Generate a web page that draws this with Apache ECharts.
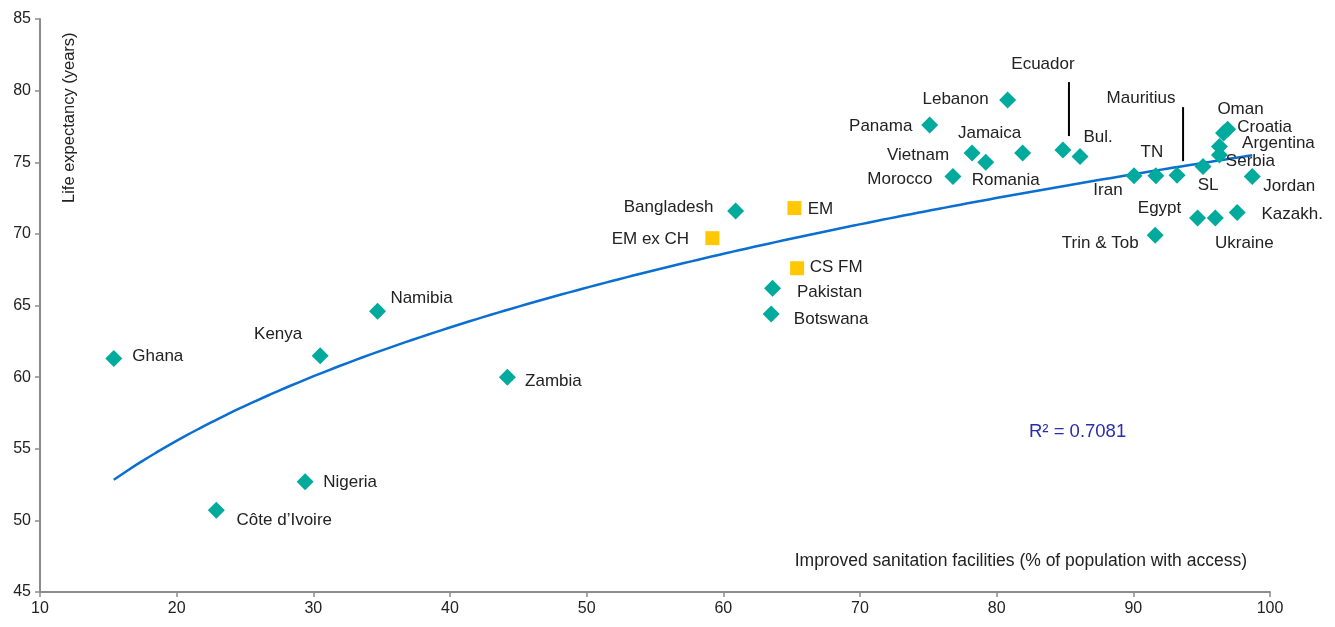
<!DOCTYPE html>
<html>
<head>
<meta charset="utf-8">
<script src="https://cdn.jsdelivr.net/npm/echarts@6/dist/echarts.min.js"></script>
<style>
html,body{margin:0;padding:0;background:#fff;}
#chart{width:1335px;height:627px;}
</style>
</head>
<body>
<div id="chart"></div>
<script>
// ---- Data ----
const countryNames = ["Ghana","Côte d’Ivoire","Nigeria","Kenya","Namibia","Zambia","Bangladesh","Pakistan","Botswana","Panama","Lebanon","Jamaica","Vietnam","Romania","Morocco","Ecuador","Bul.","Iran","TN","Mauritius","SL","Oman","Croatia","Argentina","Serbia","Jordan","Kazakh.","Egypt","Ukraine","Trin & Tob"];
const countrySanitation = [15.4,22.9,29.4,30.5,34.7,44.2,60.9,63.6,63.5,75.1,80.8,81.9,78.2,79.2,76.8,84.85,86.1,90.05,91.65,93.2,95.1,96.6,96.9,96.3,96.3,98.7,97.6,94.7,96.0,91.6];
const countryLifeExp = [61.3,50.7,52.7,61.5,64.6,60.0,71.6,66.2,64.4,77.6,79.35,75.65,75.65,75.0,74.0,75.85,75.4,74.05,74.05,74.1,74.7,77.05,77.3,76.1,75.5,74.0,71.5,71.1,71.1,69.9];

const aggNames = ["EM","EM ex CH","CS FM"];
const aggSanitation = [65.2,59.2,65.4];
const aggLifeExp = [71.8,69.7,67.6];

const rSquaredText = "R² = 0.7081";
const yAxisTitle = "Life expectancy (years)";
const xAxisTitle = "Improved sanitation facilities (% of population with access)";
const xTicks = {min:10, max:100, interval:10};
const yTicks = {min:45, max:85, interval:5};

// ---- Label layout (pixel offsets of label centre from marker centre) ----
const labelOffsets = {
  "Ghana":[44,-2],"Côte d’Ivoire":[68,10],"Nigeria":[45,1],"Kenya":[-42,-21],"Namibia":[44,-13],
  "Zambia":[46,4],"Bangladesh":[-67,-4],"Pakistan":[57,4],"Botswana":[60,5],"Panama":[-49,1],
  "Lebanon":[-52,-1],"Jamaica":[-33,-20],"Vietnam":[-54,2],"Romania":[20,18],"Morocco":[-53,3],
  "Ecuador":[-20,-86],"Bul.":[18,-19],"Iran":[-26,14],"TN":[-4,-24],"Mauritius":[-36,-77],
  "SL":[5,19],"Oman":[17,-24],"Croatia":[37,-2],"Argentina":[59,-3],"Serbia":[31,6],
  "Jordan":[37,10],"Kazakh.":[55,2],"Egypt":[-38,-10],"Ukraine":[29,25],"Trin & Tob":[-55,8],
  "EM":[26,1],"EM ex CH":[-62,1],"CS FM":[39,-1]
};
const leaderLines = ["Ecuador","Mauritius"];

const FONT = "'Liberation Sans', Arial, sans-serif";
const TEXT = "#222222";

function makeItems(names, xs, ys){
  return names.map((n,i)=>({
    name:n, value:[xs[i], ys[i]],
    label:{offset:labelOffsets[n] || [0,0]}
  }));
}

// Power trendline fitted to country points (least squares on ln-ln)
function powerFit(xs, ys){
  const n = xs.length;
  let sx=0,sy=0,sxx=0,sxy=0;
  for(let i=0;i<n;i++){const lx=Math.log(xs[i]), ly=Math.log(ys[i]); sx+=lx; sy+=ly; sxx+=lx*lx; sxy+=lx*ly;}
  const k=(n*sxy-sx*sy)/(n*sxx-sx*sx);
  const c=Math.exp((sy-k*sx)/n);
  return {k,c};
}
const fit = powerFit(countrySanitation, countryLifeExp);
const xMinData = Math.min(...countrySanitation), xMaxData = Math.max(...countrySanitation);
const trend = [];
for(let i=0;i<=80;i++){
  const x = xMinData + (xMaxData-xMinData)*i/80;
  trend.push([x, fit.c*Math.pow(x, fit.k)]);
}

const chart = echarts.init(document.getElementById('chart'), null, {renderer:'canvas'});
const labelBase = {show:true, position:'inside', formatter:'{b}', color:TEXT, opacity:1, fontFamily:FONT, fontSize:17, align:'center', verticalAlign:'middle'};

const option = {
  animation:false,
  backgroundColor:'#fff',
  grid:{left:40, right:65, top:19, bottom:35, containLabel:false},
  xAxis:{
    type:'value', min:xTicks.min, max:xTicks.max, interval:xTicks.interval,
    axisLine:{show:true, lineStyle:{color:'#8c8c8c', width:2}},
    axisTick:{show:true, length:5, lineStyle:{color:'#8c8c8c', width:1.5}},
    axisLabel:{color:TEXT, fontFamily:FONT, fontSize:16, margin:9},
    splitLine:{show:false}
  },
  yAxis:{
    type:'value', min:yTicks.min, max:yTicks.max, interval:yTicks.interval,
    axisLine:{show:true, lineStyle:{color:'#8c8c8c', width:2}},
    axisTick:{show:true, length:5, lineStyle:{color:'#8c8c8c', width:1.5}},
    axisLabel:{color:TEXT, fontFamily:FONT, fontSize:16, margin:9},
    splitLine:{show:false}
  },
  series:[
    {
      type:'line', data:trend, showSymbol:false, smooth:true, z:2,
      lineStyle:{color:'#0a6fd0', width:2.5}, silent:true
    },
    {
      type:'scatter', data:makeItems(countryNames,countrySanitation,countryLifeExp),
      symbol:'diamond', symbolSize:[17,17], z:3,
      itemStyle:{color:'#00ab9e', opacity:1},
      label:labelBase
    },
    {
      type:'scatter', data:makeItems(aggNames,aggSanitation,aggLifeExp),
      symbol:'rect', symbolSize:[14,14], z:3,
      itemStyle:{color:'#ffc800', opacity:1},
      label:labelBase
    }
  ],
  graphic:[
    {type:'text', id:'ytitle', x:61, y:203, rotation:Math.PI/2, style:{text:yAxisTitle, fill:TEXT, fontSize:16.5, fontFamily:FONT, textAlign:'left', textVerticalAlign:'top'}, z:10},
    {type:'text', id:'xtitle', x:1247, y:561, style:{text:xAxisTitle, fill:TEXT, fontSize:17.5, fontFamily:FONT, textAlign:'right', textVerticalAlign:'middle'}, z:10},
    {type:'text', id:'r2', x:1029, y:432, style:{text:rSquaredText, fill:'#2b2bb0', fontSize:18.5, fontFamily:FONT, textAlign:'left', textVerticalAlign:'middle'}, z:10}
  ]
};
chart.setOption(option);

// leader lines from labels down to their markers
const extra = [];
leaderLines.forEach((n,k)=>{
  const i = countryNames.indexOf(n);
  const p = chart.convertToPixel({gridIndex:0}, [countrySanitation[i], countryLifeExp[i]]);
  extra.push({type:'line', id:'leader'+k, shape:{x1:p[0]+6, y1:p[1]-14, x2:p[0]+6, y2:p[1]-68}, style:{stroke:'#000', lineWidth:2}, z:10});
});
chart.setOption({graphic: extra});
</script>
</body>
</html>
